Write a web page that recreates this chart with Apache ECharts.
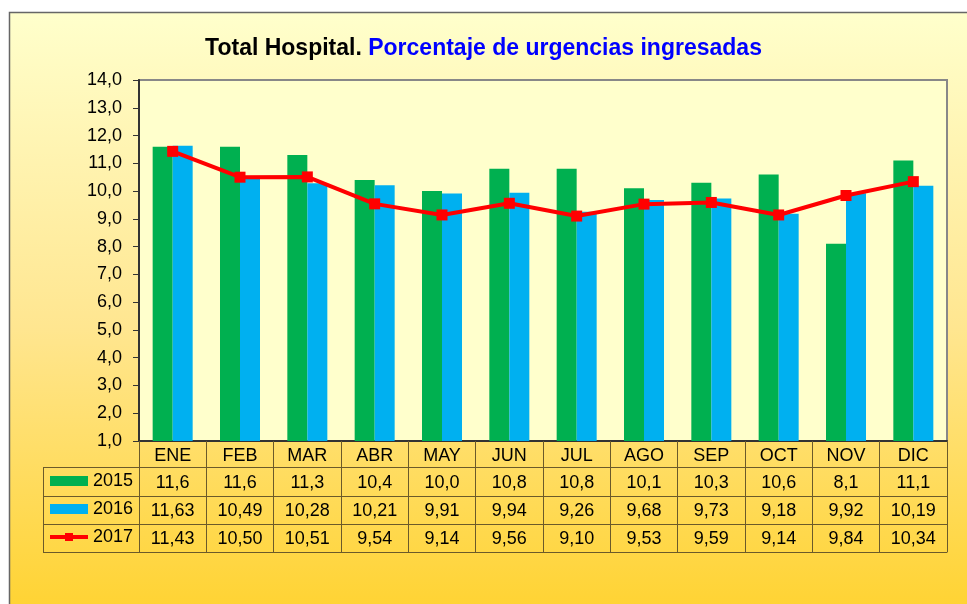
<!DOCTYPE html>
<html lang="es">
<head>
<meta charset="UTF-8">
<title>Porcentaje de urgencias ingresadas</title>
<script src="https://cdn.jsdelivr.net/npm/echarts@6/dist/echarts.min.js"></script>
<style>
  html, body { margin: 0; padding: 0; background: #fff; }
  #main { width: 967px; height: 604px; }
</style>
</head>
<body>
<div id="main"></div>
<script>
// datos
var meses = ['ENE', 'FEB', 'MAR', 'ABR', 'MAY', 'JUN', 'JUL', 'AGO', 'SEP', 'OCT', 'NOV', 'DIC'];
var anios = ['2015', '2016', '2017'];
var v2015 = [11.6, 11.6, 11.3, 10.4, 10.0, 10.8, 10.8, 10.1, 10.3, 10.6, 8.1, 11.1];
var v2016 = [11.63, 10.49, 10.28, 10.21, 9.91, 9.94, 9.26, 9.68, 9.73, 9.18, 9.92, 10.19];
var v2017 = [11.43, 10.50, 10.51, 9.54, 9.14, 9.56, 9.10, 9.53, 9.59, 9.14, 9.84, 10.34];
var decimales = [1, 2, 2];

var FONT = '"Liberation Sans", Arial, sans-serif';
var colores = ['#00B050', '#00B0F0', '#FF0000'];
var series = [v2015, v2016, v2017];

function coma(v, d) { return v.toFixed(d).replace('.', ','); }

// filas de la tabla: un eje x por fila, desplazado hacia abajo
var GRID_LEFT = 139, GRID_TOP = 80, GRID_RIGHT = 20, GRID_BOTTOM = 163;
var filas = [26, 55, 83]; // offset de cada fila (lineas de la tabla)
var FONDO = 111;          // linea inferior de la tabla

var xAxes = [{
  type: 'category', data: meses, position: 'bottom', gridIndex: 0,
  axisLine: { lineStyle: { color: '#333', width: 2 } },
  axisTick: { show: true, length: FONDO, interval: 0, lineStyle: { color: '#6b5a2a', width: 1 } },
  axisLabel: { interval: 0, margin: 6, fontSize: 18, color: '#000', fontFamily: FONT, lineHeight: 18 }
}];
filas.forEach(function (off, k) {
  xAxes.push({
    type: 'category', data: meses, position: 'bottom', offset: off, gridIndex: 0,
    axisLine: { lineStyle: { color: '#6b5a2a', width: 1 } },
    axisTick: { show: false },
    axisLabel: {
      interval: 0, margin: k === 0 ? 7 : 6, fontSize: 18, color: '#000', fontFamily: FONT, lineHeight: 18,
      formatter: function (v, i) { return coma(series[k][i], decimales[k]); }
    }
  });
});
xAxes.push({
  type: 'category', data: meses, position: 'bottom', offset: FONDO, gridIndex: 0,
  axisLine: { lineStyle: { color: '#6b5a2a', width: 1 } },
  axisTick: { show: false }, axisLabel: { show: false }
});

var chart = echarts.init(document.getElementById('main'), null, { renderer: 'canvas' });

// columna izquierda de la tabla (leyenda)
var TL = 43, axisY = 604 - GRID_BOTTOM;
var lineasTabla = [];
filas.concat([FONDO]).forEach(function (off) {
  lineasTabla.push({
    type: 'line', silent: true,
    shape: { x1: TL, y1: axisY + off + 0.5, x2: GRID_LEFT, y2: axisY + off + 0.5 },
    style: { stroke: '#6b5a2a', lineWidth: 1 }
  });
});
lineasTabla.push({
  type: 'line', silent: true,
  shape: { x1: TL + 0.5, y1: axisY + filas[0], x2: TL + 0.5, y2: axisY + FONDO },
  style: { stroke: '#6b5a2a', lineWidth: 1 }
});

chart.setOption({
  animation: false,
  textStyle: { fontFamily: FONT },
  graphic: [{
    type: 'rect', z: -10, silent: true,
    shape: { x: 9.5, y: 12.5, width: 1000, height: 700 },
    style: {
      stroke: '#666', lineWidth: 1.5,
      fill: new echarts.graphic.LinearGradient(0, 0, 0, 1, [
        { offset: 0, color: '#FFFFCC' },
        { offset: 0.45, color: '#FFE690' },
        { offset: 1, color: '#FFCC10' }
      ])
    }
  }].concat(lineasTabla),
  title: {
    left: 'center', top: 32,
    text: '{a|Total Hospital. }{b|Porcentaje de urgencias ingresadas}',
    textStyle: {
      rich: {
        a: { fontSize: 23, fontWeight: 'bold', color: '#000', fontFamily: FONT },
        b: { fontSize: 23, fontWeight: 'bold', color: '#0000FF', fontFamily: FONT }
      }
    }
  },
  legend: {
    orient: 'vertical', left: 43, top: 467,
    itemWidth: 38, itemHeight: 10, itemGap: 10,
    textStyle: { fontSize: 18, color: '#000', fontFamily: FONT, lineHeight: 18 },
    data: [
      { name: anios[0], icon: 'rect' },
      { name: anios[1], icon: 'rect' },
      { name: anios[2], lineStyle: { width: 4, color: colores[2] } }
    ]
  },
  grid: {
    left: GRID_LEFT, right: GRID_RIGHT, top: GRID_TOP, bottom: GRID_BOTTOM,
    show: true, backgroundColor: '#FFFFCC', borderColor: '#888', borderWidth: 2
  },
  xAxis: xAxes,
  yAxis: {
    type: 'value', min: 1, max: 14, interval: 1,
    axisLine: { show: true, lineStyle: { color: '#333', width: 2 } },
    axisTick: { show: true, inside: false, length: 6, lineStyle: { color: '#333' } },
    splitLine: { show: false },
    axisLabel: {
      margin: 17, fontSize: 18, color: '#000', fontFamily: FONT,
      formatter: function (v) { return coma(v, 1); }
    }
  },
  series: [
    {
      name: anios[0], type: 'bar', data: v2015, barWidth: 20, barGap: '0%',
      itemStyle: { color: colores[0] }, clip: true
    },
    {
      name: anios[1], type: 'bar', data: v2016, barWidth: 20, barGap: '0%',
      itemStyle: { color: colores[1] }, clip: true
    },
    {
      name: anios[2], type: 'line', data: v2017,
      symbol: 'rect', symbolSize: 11,
      lineStyle: { color: colores[2], width: 4 },
      itemStyle: { color: colores[2] }
    }
  ]
});
</script>
</body>
</html>
